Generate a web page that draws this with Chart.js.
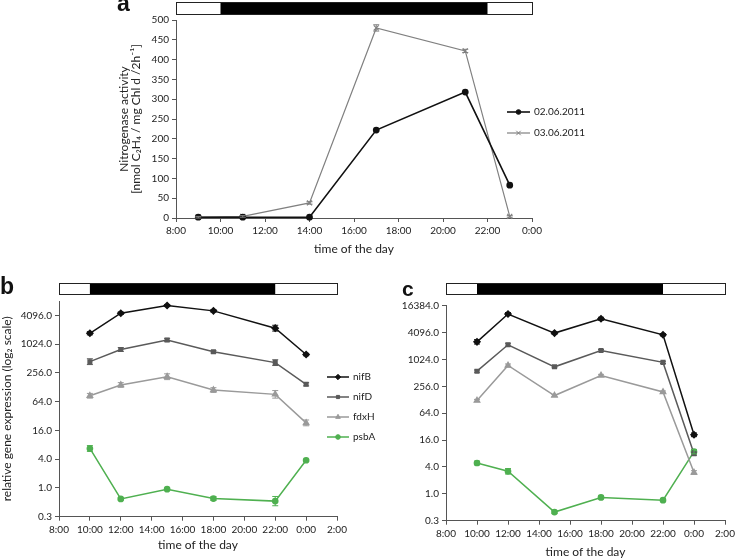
<!DOCTYPE html>
<html>
<head>
<meta charset="utf-8">
<script src="https://cdn.jsdelivr.net/npm/chart.js@4.4.0/dist/chart.umd.min.js"></script>
<style>
body { margin: 0; background: #fff; width: 736px; height: 559px; position: relative; overflow: hidden; }
canvas { position: absolute; }
.lbl { position: absolute; font: bold 23px "Liberation Sans", Arial, sans-serif; line-height: 23px; color: #111; }
</style>
</head>
<body>
<canvas id="chartA" width="736" height="258" style="left:0px;top:0px"></canvas>
<canvas id="chartB" width="400" height="319" style="left:0px;top:240px"></canvas>
<canvas id="chartC" width="366" height="319" style="left:370px;top:240px"></canvas>
<div class="lbl" style="left:117px;top:-8px">a</div>
<div class="lbl" style="left:0px;top:275px">b</div>
<div class="lbl" style="left:402px;top:277px;font-size:21px">c</div>
<script>
// panel a - nitrogenase activity
var timesA = [9, 11, 14, 17, 21, 23];
var activity0206 = [2, 2, 2, 222, 318, 83];
var activity0306 = [2, 4, 38, 480, 422, 4];
var errA0306 = [2, 2, 3, 8, 4, 2];

// panels b, c - relative gene expression
var timesBC = [10, 12, 15, 18, 22, 24];
var genes = ['nifB', 'nifD', 'fdxH', 'psbA'];
var bNifB = [1730, 4550, 6580, 5090, 2210, 620];
var bNifD = [440, 790, 1250, 710, 420, 148];
var bFdxH = [85, 143, 213, 112, 91, 23];
var bPsbA = [6.7, 0.59, 0.94, 0.60, 0.53, 3.8];
var bErrNifB = [1.08, 1.06, 1.05, 1.06, 1.15, 1.06];
var bErrNifD = [1.15, 1.1, 1.08, 1.06, 1.15, 1.08];
var bErrFdxH = [1.12, 1.12, 1.15, 1.12, 1.2, 1.15];
var bErrPsbA = [1.15, 1.05, 1.05, 1.1, 1.25, 1.05];
var cNifB = [2540, 10660, 3990, 8360, 3660, 21];
var cNifD = [560, 2180, 700, 1630, 880, 7.9];
var cFdxH = [123, 750, 159, 448, 192, 3.0];
var cPsbA = [4.9, 3.2, 0.39, 0.83, 0.72, 8.8];
var cErrNifB = [1.12, 1.08, 1.06, 1.08, 1.06, 1.1];
var cErrNifD = [1.06, 1.08, 1.05, 1.05, 1.06, 1.08];
var cErrFdxH = [1.06, 1.08, 1.05, 1.06, 1.05, 1.1];
var cErrPsbA = [1.1, 1.15, 1.08, 1.08, 1.08, 1.12];

var bTicks = [0.25, 1, 4, 16, 64, 256, 1024, 4096];
var cTicks = [0.25, 1, 4, 16, 64, 256, 1024, 4096, 16384];

// light / dark period (hours)
var darkStart = 10;
var darkEnd = 22;

Chart.defaults.font.family = 'Lato, "Open Sans", sans-serif';
Chart.defaults.color = '#222';

function pts(xs, ys) {
    return xs.map(function(x, i) { return { x: x, y: ys[i] }; });
}
function fmtHour(v) {
    return (v % 24) + ':00';
}

var dayNight = {
    id: 'dayNight',
    afterDraw: function(chart, args, opts) {
        var x = chart.scales.x, ctx = chart.ctx;
        var l = x.left, r = x.right;
        var d0 = x.getPixelForValue(darkStart), d1 = x.getPixelForValue(darkEnd);
        ctx.save();
        ctx.fillStyle = '#fff';
        ctx.fillRect(l, opts.top, r - l, opts.height);
        ctx.fillStyle = '#000';
        ctx.fillRect(d0, opts.top, d1 - d0, opts.height);
        ctx.strokeStyle = '#222';
        ctx.lineWidth = 1;
        ctx.strokeRect(Math.round(l) + 0.5, opts.top + 0.5, r - l, opts.height);
        ctx.restore();
    }
};

var errorBars = {
    id: 'errorBars',
    afterDatasetsDraw: function(chart, args, opts) {
        var ctx = chart.ctx, xs = chart.scales.x, ys = chart.scales.y;
        chart.data.datasets.forEach(function(ds) {
            if (!ds.errors) return;
            ctx.save();
            ctx.strokeStyle = ds.borderColor;
            ctx.lineWidth = 1;
            ds.data.forEach(function(p, j) {
                var e = ds.errors[j];
                var hi = opts.log ? p.y * e : p.y + e;
                var lo = opts.log ? p.y / e : p.y - e;
                var px = xs.getPixelForValue(p.x);
                var y1 = ys.getPixelForValue(hi), y2 = ys.getPixelForValue(lo);
                ctx.beginPath();
                ctx.moveTo(px, y1); ctx.lineTo(px, y2);
                ctx.moveTo(px - 3, y1); ctx.lineTo(px + 3, y1);
                ctx.moveTo(px - 3, y2); ctx.lineTo(px + 3, y2);
                ctx.stroke();
            });
            ctx.restore();
        });
    }
};

var sideLegend = {
    id: 'sideLegend',
    afterDraw: function(chart, args, opts) {
        if (!opts.show) return;
        var ctx = chart.ctx, area = chart.chartArea;
        chart.data.datasets.forEach(function(ds, i) {
            var x0 = area.right + opts.dx, y0 = area.top + opts.dy + i * opts.step;
            ctx.save();
            ctx.strokeStyle = ds.borderColor;
            ctx.lineWidth = ds.borderWidth;
            ctx.beginPath();
            ctx.moveTo(x0, y0); ctx.lineTo(x0 + opts.len, y0);
            ctx.stroke();
            ctx.fillStyle = ds.pointBackgroundColor;
            ctx.lineWidth = 1;
            Chart.helpers.drawPoint(ctx, { pointStyle: ds.pointStyle, radius: ds.pointRadius * 0.9, borderWidth: 1, rotation: 0 }, x0 + opts.len / 2, y0);
            ctx.fillStyle = '#222';
            ctx.font = '10px Lato, "Open Sans", sans-serif';
            ctx.textBaseline = 'middle';
            ctx.fillText(ds.label, x0 + opts.len + 4, y0);
            ctx.restore();
        });
    }
};

function xAxis(maxH, height, fontSize, titlePad) {
    return {
        type: 'linear', min: 8, max: maxH,
        ticks: { stepSize: 2, autoSkip: false, maxRotation: 0, padding: 3, font: { size: fontSize }, callback: fmtHour },
        grid: { drawOnChartArea: false, drawTicks: true, tickLength: 4, color: '#555' },
        border: { color: '#555', width: 1 },
        title: { display: true, text: 'time of the day', font: { size: 12 }, padding: { top: 0, bottom: titlePad } },
        afterFit: function(s) { s.height = height; s.paddingLeft = 0; s.paddingRight = 0; }
    };
}

// ---- panel a ----
new Chart(document.getElementById('chartA').getContext('2d'), {
    type: 'line',
    data: {
        datasets: [{
            label: '02.06.2011',
            data: pts(timesA, activity0206),
            borderColor: '#111', backgroundColor: '#111', pointBackgroundColor: '#111',
            borderWidth: 1.6, pointStyle: 'circle', pointRadius: 2.6, tension: 0, clip: false
        }, {
            label: '03.06.2011',
            data: pts(timesA, activity0306),
            errors: errA0306,
            borderColor: '#808080', backgroundColor: '#808080', pointBackgroundColor: '#808080',
            borderWidth: 1.2, pointStyle: 'crossRot', pointRadius: 3.5, tension: 0, clip: false
        }]
    },
    options: {
        responsive: false, animation: false, devicePixelRatio: 1,
        layout: { padding: { left: 110, right: 204, top: 20, bottom: 0 } },
        plugins: {
            legend: { display: false }, tooltip: { enabled: false },
            dayNight: { top: 2, height: 12 },
            errorBars: { log: false },
            sideLegend: { show: true, dx: -25, dy: 92, step: 21, len: 23 }
        },
        scales: {
            x: xAxis(24, 40, 10, 2),
            y: {
                min: 0, max: 500,
                ticks: { stepSize: 50, padding: 3, font: { size: 10 } },
                grid: { drawOnChartArea: false, drawTicks: true, tickLength: 4, color: '#555' },
                border: { color: '#555', width: 1 },
                title: { display: true, text: ['Nitrogenase activity', '[nmol C\u2082H\u2084 / mg Chl d /2h\u207B\u00B9]'], font: { size: 12, lineHeight: 1 }, padding: { top: 8, bottom: 0 } },
                afterFit: function(s) { s.width = 66; s.paddingTop = 0; s.paddingBottom = 0; }
            }
        }
    },
    plugins: [dayNight, errorBars, sideLegend]
});

// ---- panels b and c ----
var geneColors = ['#111111', '#5a5a5a', '#9a9a9a', '#4fb050'];
var geneStyles = ['rectRot', 'rect', 'triangle', 'circle'];
var geneRadius = [3, 2.5, 3, 2.6];

function geneSets(series, errs) {
    return genes.map(function(g, i) {
        return {
            label: g,
            data: pts(timesBC, series[i]),
            errors: errs[i],
            borderColor: geneColors[i], backgroundColor: geneColors[i], pointBackgroundColor: geneColors[i],
            borderWidth: 1.5, pointStyle: geneStyles[i], pointRadius: geneRadius[i], tension: 0, clip: false
        };
    });
}

function logAxis(maxV, tickList, width, fontSize, title) {
    return {
        type: 'logarithmic', min: 0.25, max: maxV,
        afterBuildTicks: function(s) { s.ticks = tickList.map(function(v) { return { value: v }; }); },
        ticks: { padding: 3, font: { size: fontSize }, callback: function(v) { return Number(v).toFixed(1); } },
        grid: { drawOnChartArea: false, drawTicks: true, tickLength: 4, color: '#555' },
        border: { color: '#555', width: 1 },
        title: { display: !!title, text: title, font: { size: 12 }, padding: { top: 0, bottom: 0 } },
        afterFit: function(s) { s.width = width; s.paddingTop = 0; s.paddingBottom = 0; }
    };
}

new Chart(document.getElementById('chartB').getContext('2d'), {
    type: 'line',
    data: { datasets: geneSets([bNifB, bNifD, bFdxH, bPsbA], [bErrNifB, bErrNifD, bErrFdxH, bErrPsbA]) },
    options: {
        responsive: false, animation: false, devicePixelRatio: 1,
        layout: { padding: { left: 0, right: 63, top: 61, bottom: 0 } },
        plugins: {
            legend: { display: false }, tooltip: { enabled: false },
            dayNight: { top: 43, height: 11 },
            errorBars: { log: true },
            sideLegend: { show: true, dx: -10, dy: 76, step: 20, len: 22 }
        },
        scales: {
            x: xAxis(26, 42.3, 10, 7),
            y: logAxis(8192, bTicks, 59, 10, 'relative gene expression (log\u2082 scale)')
        }
    },
    plugins: [dayNight, errorBars, sideLegend]
});

new Chart(document.getElementById('chartC').getContext('2d'), {
    type: 'line',
    data: { datasets: geneSets([cNifB, cNifD, cFdxH, cPsbA], [cErrNifB, cErrNifD, cErrFdxH, cErrPsbA]) },
    options: {
        responsive: false, animation: false, devicePixelRatio: 1,
        layout: { padding: { left: 20, right: 11, top: 65.7, bottom: 0 } },
        plugins: {
            legend: { display: false }, tooltip: { enabled: false },
            dayNight: { top: 43, height: 11 },
            errorBars: { log: true },
            sideLegend: { show: false }
        },
        scales: {
            x: xAxis(26, 38.3, 10, 0),
            y: logAxis(16384, cTicks, 56, 10, '')
        }
    },
    plugins: [dayNight, errorBars, sideLegend]
});
</script>
</body>
</html>
